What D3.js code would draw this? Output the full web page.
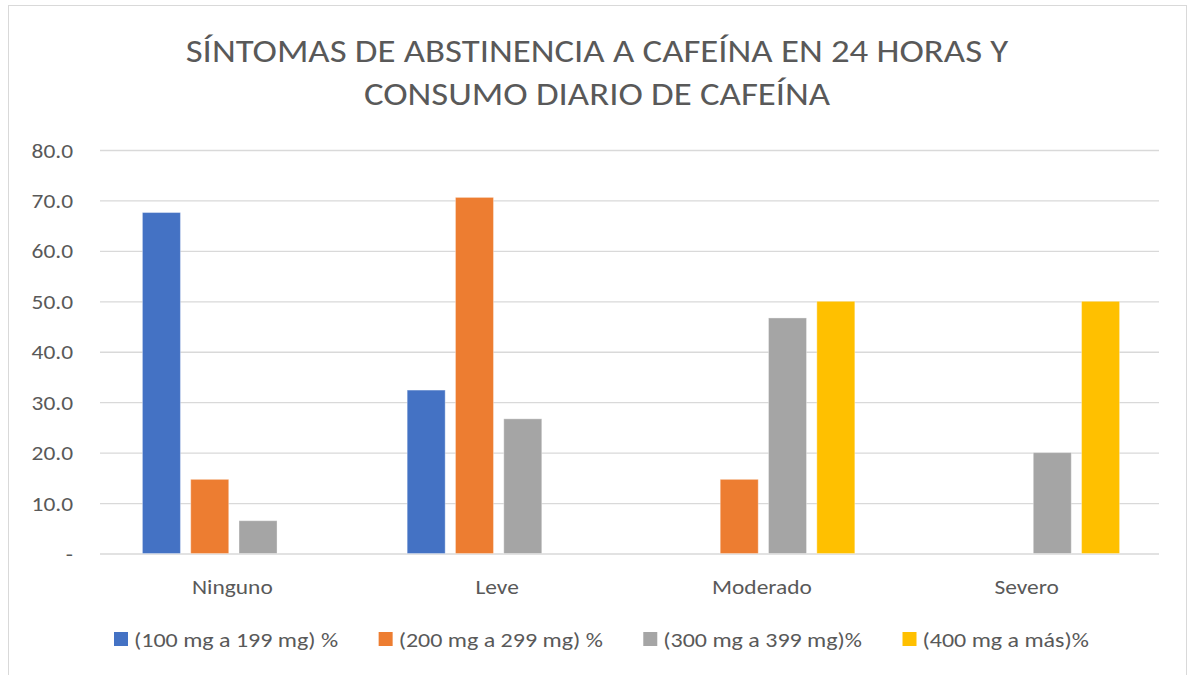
<!DOCTYPE html>
<html>
<head>
<meta charset="utf-8">
<script src="https://cdn.jsdelivr.net/npm/d3@7"></script>
<style>
  html, body { margin: 0; padding: 0; background: #ffffff; }
  svg { display: block; }
  text { font-family: Carlito, Calibri, Lato, "Open Sans", sans-serif; fill: #595959; }
</style>
</head>
<body>
<svg id="chart" width="1188" height="675"></svg>
<script>
const titleLines = ["SÍNTOMAS DE ABSTINENCIA A CAFEÍNA EN 24 HORAS Y", "CONSUMO DIARIO DE CAFEÍNA"];
const categories = ["Ninguno", "Leve", "Moderado", "Severo"];
const seriesNames = ["(100 mg a 199 mg) %", "(200 mg a 299 mg) %", "(300 mg a 399 mg)%", "(400 mg a más)%"];
const seriesColors = ["#4472C4", "#ED7D31", "#A5A5A5", "#FFC000"];
const s100 = [67.6, 32.4, 0, 0];
const s200 = [14.7, 70.6, 14.7, 0];
const s300 = [6.5, 26.7, 46.7, 20.0];
const s400 = [0, 0, 50.0, 50.0];
const yTicks = [0, 10, 20, 30, 40, 50, 60, 70, 80];

const seriesValues = [s100, s200, s300, s400];
const svg = d3.select("#chart");
const W = 1188, H = 675;
const FONT = 'Carlito, Calibri, Lato, "Open Sans", sans-serif';

function stretch(sel, k) {
  sel.each(function() {
    const L = this.getComputedTextLength();
    d3.select(this).attr("textLength", L * k).attr("lengthAdjust", "spacingAndGlyphs");
  });
}

// chart border
svg.append("rect").attr("x", 8.5).attr("y", 5.5).attr("width", W - 10).attr("height", H + 10)
  .attr("fill", "#fff").attr("stroke", "#d9d9d9").attr("stroke-width", 1);

const plot = { left: 100, right: 1159, top: 150, bottom: 553.5 };

const y = d3.scaleLinear().domain([0, 80]).range([plot.bottom, plot.top]);
const x0 = d3.scaleBand().domain(categories).range([plot.left, plot.right]).paddingInner(0).paddingOuter(0);
const barW = 38, step = 48.3;
const groupW = step * 3 + barW;

// gridlines + tick labels via axis
const yAxis = d3.axisLeft(y).tickValues(yTicks)
  .tickSize(-(plot.right - plot.left))
  .tickFormat(d => d === 0 ? "-" : d3.format(".1f")(d));
const gy = svg.append("g").attr("transform", `translate(${plot.left},0)`).call(yAxis);
gy.select(".domain").remove();
gy.selectAll(".tick line").attr("stroke", "#d9d9d9").attr("stroke-width", 1.3);
gy.selectAll(".tick text").attr("x", -27).attr("dy", "0.36em").attr("font-size", 19.5).attr("fill", "#595959")
  .style("font-family", FONT).call(stretch, 1.2);

// bars
const groups = svg.append("g").selectAll("g").data(categories).join("g")
  .attr("transform", c => `translate(${x0(c) + x0.bandwidth() / 2 - groupW / 2 + 1.5},0)`);
groups.each(function(c, ci) {
  d3.select(this).selectAll("rect").data(seriesValues.map((s, si) => ({ v: s[ci], si })))
    .join("rect")
    .filter(d => d.v > 0)
    .attr("x", d => d.si * step)
    .attr("y", d => y(d.v))
    .attr("width", barW)
    .attr("height", d => y(0) - y(d.v))
    .attr("fill", d => seriesColors[d.si])
    .attr("stroke", "rgba(255,255,255,0.35)").attr("stroke-width", 1);
});

// x axis labels
const xAxis = d3.axisBottom(x0).tickSize(0).tickPadding(0);
const gx = svg.append("g").attr("transform", `translate(0,${plot.bottom})`).call(xAxis);
gx.select(".domain").remove();
gx.selectAll(".tick text").attr("dy", 0).attr("y", 40).attr("font-size", 19.5).attr("fill", "#595959")
  .style("font-family", FONT).call(stretch, 1.2);

// title
svg.append("g").selectAll("text").data(titleLines).join("text")
  .attr("x", 597).attr("y", (d, i) => 61.5 + i * 43.5)
  .attr("text-anchor", "middle").attr("font-size", 33).text(d => d)
  .call(stretch, 1.115);

// legend
const leg = svg.append("g");
let lx = 114;
seriesNames.forEach((n, i) => {
  leg.append("rect").attr("x", lx).attr("y", 632).attr("width", 14).attr("height", 14).attr("fill", seriesColors[i]);
  const t = leg.append("text").attr("x", lx + 20).attr("y", 646.5).attr("font-size", 19.5).text(n);
  stretch(t, 1.23);
  lx += 20 + +t.attr("textLength") + 40.5;
});
</script>
</body>
</html>
